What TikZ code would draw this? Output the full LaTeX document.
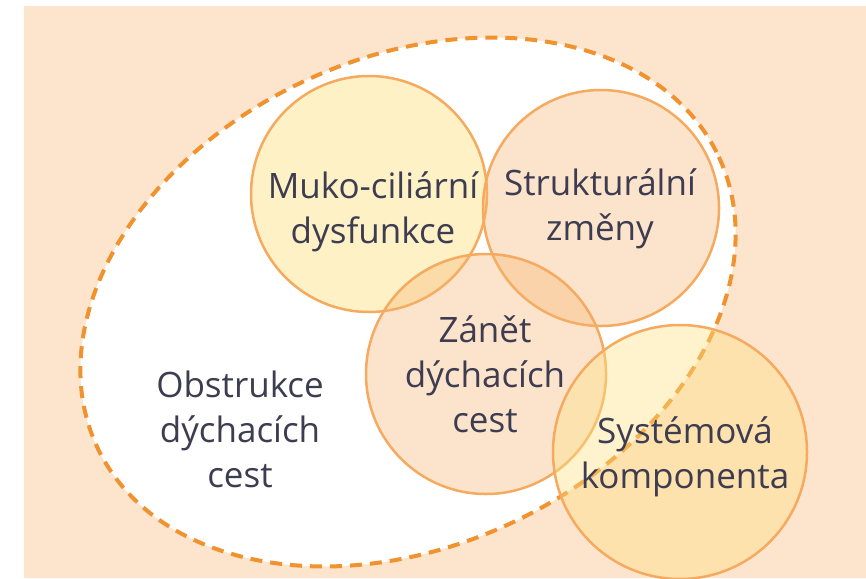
\documentclass[tikz,border=0pt]{standalone}
\usepackage{fontspec}
\setmainfont{Open Sans}
\usepackage{xcolor}
\definecolor{peach}{HTML}{FDE4CC}
\definecolor{dashorange}{HTML}{F0922E}
\definecolor{rimorange}{HTML}{F5AA5F}
\definecolor{yellowfill}{HTML}{FDE182}
\definecolor{peachfill}{HTML}{F7B46E}
\definecolor{textgray}{HTML}{3E3C50}

\begin{document}
\begin{tikzpicture}[x=1pt,y=-1pt,
  bubble/.style={circle,draw=rimorange,line width=2.5pt,inner sep=0pt,minimum size=#1},
  caption/.style={text=textgray,align=center,anchor=base,font=\fontsize{35}{45}\selectfont}]
  \useasboundingbox (0,0) rectangle (866,578);
  \fill[peach] (24,6) rectangle (866,578);
  \draw[fill=white,draw=dashorange,line width=4pt,dash pattern=on 12pt off 8pt,
    rotate around={25:(408,302)}] (408,302) ellipse [x radius=343,y radius=244];
  \node[bubble=236pt,fill=yellowfill,fill opacity=0.45] (muko) at (369,194) {};
  \node[bubble=236pt,fill=peachfill,fill opacity=0.35] (struktura) at (601,208) {};
  \node[bubble=240pt,fill=peachfill,fill opacity=0.35] (zanet) at (486,374) {};
  \node[bubble=254pt,fill=yellowfill,fill opacity=0.4] (system) at (680,452) {};
  \node[caption] (muko text) at (373,243) {Muko-ciliární\\dysfunkce};
  \node[caption] (struktura text) at (600,240) {Strukturální\\změny};
  \node[caption] (zanet text) at (485,432) {Zánět\\dýchacích\\cest};
  \node[caption] (obstrukce text) at (240,487) {Obstrukce\\dýchacích\\cest};
  \node[caption] (system text) at (685,488) {Systémová\\komponenta};
\end{tikzpicture}
\end{document}
